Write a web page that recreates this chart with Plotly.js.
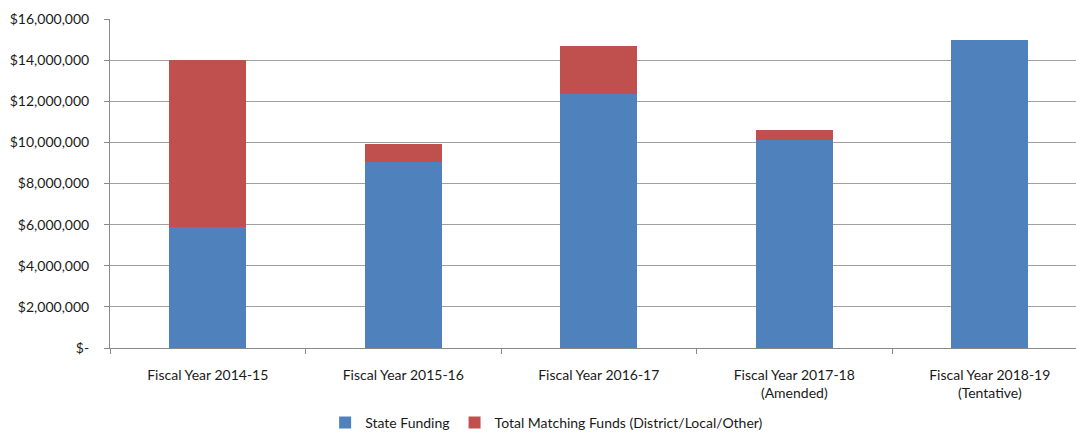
<!DOCTYPE html>
<html>
<head>
<meta charset="utf-8">
<script src="https://cdn.plot.ly/plotly-3.0.1.min.js"></script>
<style>html,body{margin:0;padding:0;background:#fff;}#chart{width:1076px;height:435px;}</style>
</head>
<body>
<div id="chart"></div>
<script>
var categories = ["Fiscal Year 2014-15", "Fiscal Year 2015-16", "Fiscal Year 2016-17", "Fiscal Year 2017-18<br>(Amended)", "Fiscal Year 2018-19<br>(Tentative)"];
var stateFunding = [5870000, 9060000, 12370000, 10120000, 15000000];
var matchingFunds = [8130000, 850000, 2320000, 480000, 0];
var yTickVals = [0, 2000000, 4000000, 6000000, 8000000, 10000000, 12000000, 14000000, 16000000];
var yTickText = ["$-", "$2,000,000", "$4,000,000", "$6,000,000", "$8,000,000", "$10,000,000", "$12,000,000", "$14,000,000", "$16,000,000"];

var font = "Lato, 'Open Sans', sans-serif";
var data = [
  {type: "bar", name: "State Funding", x: categories, y: stateFunding, marker: {color: "#4F81BD"}},
  {type: "bar", name: "Total Matching Funds (District/Local/Other)", x: categories, y: matchingFunds, marker: {color: "#C0504D"}}
];
var layout = {
  width: 1076, height: 435,
  margin: {l: 110, r: 0, t: 19, b: 87},
  barmode: "stack",
  bargap: 0.606,
  paper_bgcolor: "#fff", plot_bgcolor: "#fff",
  font: {family: font, size: 14, color: "#1a1a1a"},
  showlegend: true,
  legend: {orientation: "h", x: 0.452, xanchor: "center", yref: "container", y: 0.028, yanchor: "middle", font: {size: 14}, traceorder: "normal", itemwidth: 30},
  xaxis: {
    type: "category", range: [-0.5, 4.441], fixedrange: true, automargin: false,
    showline: true, linecolor: "#898989", linewidth: 1,
    ticks: "outside", tickson: "boundaries", ticklen: 5, tickcolor: "#898989",
    showgrid: false, tickfont: {size: 14}, ticklabelstandoff: 14
  },
  yaxis: {
    range: [0, 16000000], tickvals: yTickVals, ticktext: yTickText, automargin: false,
    showline: true, linecolor: "#898989", linewidth: 1,
    ticks: "outside", ticklen: 5, tickcolor: "#898989",
    showgrid: true, gridcolor: "#a0a0a0", gridwidth: 1, zeroline: false,
    tickfont: {size: 14}, ticklabelstandoff: 12
  }
};
Plotly.newPlot("chart", data, layout, {displayModeBar: false, staticPlot: true});
</script>
</body>
</html>
